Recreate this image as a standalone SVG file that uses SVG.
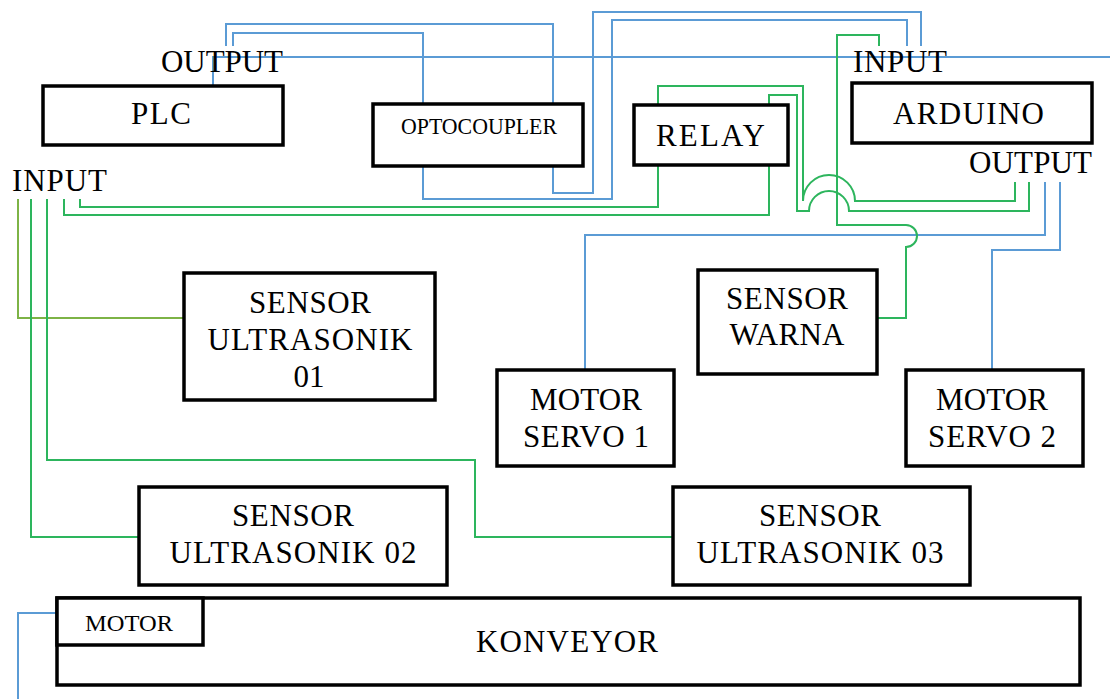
<svg xmlns="http://www.w3.org/2000/svg" width="1110" height="699" viewBox="0 0 1110 699">
<style>
.box{fill:#fff;stroke:#000;stroke-width:3.5}
.t{font-family:"Liberation Serif","Times New Roman",serif;font-size:31px;fill:#000;text-anchor:middle}
.s{font-family:"Liberation Serif","Times New Roman",serif;font-size:23px;fill:#000;text-anchor:middle}
.b{fill:none;stroke:#5B9BD5;stroke-width:2}
.g{fill:none;stroke:#2DB55D;stroke-width:2}
.o{fill:none;stroke:#7DB346;stroke-width:2}
</style>
<rect width="1110" height="699" fill="#fff"/>
<g id="connectors">
<path class="b" d="M213,86 V57 H1110"/>
<path class="b" d="M226,46 V24 H553 V104"/>
<path class="b" d="M233,46 V33 H423 V104"/>
<path class="b" d="M423,166 V199 H612 V20 H907 V46"/>
<path class="b" d="M553,166 V193 H593 V12 H921 V46"/>
<path class="b" d="M1045,182 V235 H585 V370"/>
<path class="b" d="M1060,182 V250 H992 V370"/>
<path class="b" d="M57,613 H18 V699"/>
<path class="g" d="M64,199 V215 H769 V165"/>
<path class="g" d="M80,199 V207 H658 V165"/>
<path class="g" d="M658,105 V86 H803 V201 A26,26 0 0 1 855,201 H1015 V182"/>
<path class="g" d="M769,105 V95 H797 V211 H809 A20,20 0 0 1 849,211 H1029 V182"/>
<path class="g" d="M879,46 V35 H837 V225 H906 A11,11 0 0 1 906,247 V318 H877"/>
<path class="o" d="M18,199 V318 H184"/>
<path class="g" d="M31,199 V537 H139"/>
<path class="g" d="M47,199 V460 H475 V537 H673"/>
</g>
<g id="plc">
<rect class="box" x="43" y="86" width="240" height="59"/>
<text class="t" x="161" y="124" textLength="60" lengthAdjust="spacing">PLC</text>
<text class="t" x="222" y="72" textLength="122" lengthAdjust="spacing">OUTPUT</text>
<text class="t" x="59.5" y="191" textLength="95" lengthAdjust="spacing">INPUT</text>
</g>
<g id="optocoupler">
<rect class="box" x="373" y="104" width="210" height="62"/>
<text class="s" x="479" y="134" textLength="156" lengthAdjust="spacingAndGlyphs">OPTOCOUPLER</text>
</g>
<g id="relay">
<rect class="box" x="634" y="105" width="154" height="60"/>
<text class="t" x="710.5" y="146" textLength="109" lengthAdjust="spacing">RELAY</text>
</g>
<g id="arduino">
<rect class="box" x="852" y="83" width="240" height="60"/>
<text class="t" x="968.5" y="124" textLength="151" lengthAdjust="spacing">ARDUINO</text>
<text class="t" x="900" y="72" textLength="94" lengthAdjust="spacing">INPUT</text>
<text class="t" x="1030.5" y="173" textLength="123" lengthAdjust="spacing">OUTPUT</text>
</g>
<g id="sensor-ultrasonik-01">
<rect class="box" x="184" y="273" width="251" height="127"/>
<text class="t" x="310" y="313" textLength="122" lengthAdjust="spacing">SENSOR</text>
<text class="t" x="310" y="350" textLength="205" lengthAdjust="spacing">ULTRASONIK</text>
<text class="t" x="309" y="387">01</text>
</g>
<g id="sensor-warna">
<rect class="box" x="698" y="270" width="179" height="104"/>
<text class="t" x="787" y="309" textLength="122" lengthAdjust="spacing">SENSOR</text>
<text class="t" x="787" y="345" textLength="115" lengthAdjust="spacing">WARNA</text>
</g>
<g id="motor-servo-1">
<rect class="box" x="497" y="370" width="177" height="96"/>
<text class="t" x="586" y="410" textLength="112" lengthAdjust="spacing">MOTOR</text>
<text class="t" x="586" y="447" textLength="126" lengthAdjust="spacing">SERVO 1</text>
</g>
<g id="motor-servo-2">
<rect class="box" x="906" y="370" width="177" height="96"/>
<text class="t" x="992" y="410" textLength="112" lengthAdjust="spacing">MOTOR</text>
<text class="t" x="992" y="447" textLength="128" lengthAdjust="spacing">SERVO 2</text>
</g>
<g id="sensor-ultrasonik-02">
<rect class="box" x="139" y="487" width="308" height="98"/>
<text class="t" x="293" y="526" textLength="122" lengthAdjust="spacing">SENSOR</text>
<text class="t" x="293" y="563" textLength="247" lengthAdjust="spacing">ULTRASONIK 02</text>
</g>
<g id="sensor-ultrasonik-03">
<rect class="box" x="673" y="487" width="297" height="98"/>
<text class="t" x="820" y="526" textLength="122" lengthAdjust="spacing">SENSOR</text>
<text class="t" x="820" y="563" textLength="247" lengthAdjust="spacing">ULTRASONIK 03</text>
</g>
<g id="konveyor">
<rect class="box" x="57" y="598" width="1023" height="87"/>
<text class="t" x="567" y="652" textLength="182" lengthAdjust="spacing">KONVEYOR</text>
</g>
<g id="motor">
<rect class="box" x="57" y="598" width="146" height="47"/>
<text class="s" x="129" y="631" textLength="88" lengthAdjust="spacingAndGlyphs">MOTOR</text>
</g>
</svg>
